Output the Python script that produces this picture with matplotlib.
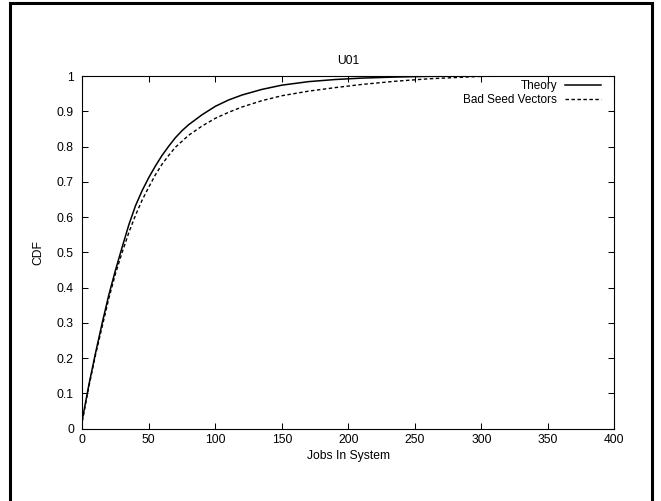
import matplotlib
matplotlib.use("Agg")
import matplotlib.pyplot as plt
import matplotlib.patches as patches

plt.rcParams['font.family'] = ['Liberation Sans', 'DejaVu Sans']

# Jobs in system (x) and CDF values
theory_n = [0, 5, 10, 15, 20, 25, 30, 35, 40, 45, 50, 55, 60, 65, 70, 75,
            80, 90, 100, 110, 120, 135, 150, 170, 190, 210, 235, 260, 300,
            400]
theory_cdf = [0.025, 0.125, 0.215, 0.30, 0.38, 0.45, 0.515, 0.578, 0.632,
              0.675, 0.712, 0.745, 0.775, 0.801, 0.825, 0.845, 0.862, 0.89,
              0.914, 0.932, 0.946, 0.962, 0.974, 0.984, 0.99, 0.994, 0.997,
              0.999, 1.0, 1.0]

bad_n = [0, 5, 10, 15, 20, 25, 30, 35, 40, 45, 50, 55, 60, 65, 70, 80, 90,
         100, 110, 120, 135, 150, 170, 190, 210, 235, 260, 300, 400]
bad_cdf = [0.02, 0.12, 0.21, 0.29, 0.37, 0.44, 0.50, 0.556, 0.605, 0.648,
           0.685, 0.72, 0.75, 0.775, 0.798, 0.832, 0.858, 0.88, 0.897, 0.912,
           0.93, 0.944, 0.957, 0.967, 0.976, 0.985, 0.992, 0.999, 1.0]

fig = plt.figure(figsize=(6.61, 5.01), dpi=100)
ax = fig.add_axes([0.1245, 0.1447, 0.805, 0.7036])

ax.plot(theory_n, theory_cdf, color='k', lw=1.1, label='Theory')
ax.plot(bad_n, bad_cdf, color='k', lw=1.0, dashes=(2.5, 1.8),
        label='Bad Seed Vectors')

ax.set_xlim(0, 400)
ax.set_ylim(0, 1)
ax.set_xticks(range(0, 401, 50))
ax.set_yticks([i / 10 for i in range(11)])
ax.set_yticklabels(['0', '0.1', '0.2', '0.3', '0.4', '0.5', '0.6', '0.7',
                    '0.8', '0.9', '1'])
ax.tick_params(direction='in', length=4.5, width=0.75, top=True, right=True,
               labelsize=8.7)
ax.tick_params(axis='y', pad=6)
ax.tick_params(axis='x', pad=4)
for s in ax.spines.values():
    s.set_linewidth(0.8)

ax.set_title('U01', fontsize=8.7, pad=9)
ax.set_xlabel('Jobs In System', fontsize=8.7, labelpad=3)
ax.set_ylabel('CDF', fontsize=8.7, labelpad=9)

ax.legend(loc='upper right', bbox_to_anchor=(0.99, 1.012), frameon=False,
          markerfirst=False, fontsize=8.5, handlelength=3.0,
          handletextpad=0.7, labelspacing=0.15, borderaxespad=0.3)

# Thick page border
fig.patches.append(patches.Rectangle((10 / 661, -0.05), 642 / 661, 1.044,
                                     transform=fig.transFigure, fill=False,
                                     lw=2.2, ec='k'))

plt.savefig('out.png', dpi=100)
